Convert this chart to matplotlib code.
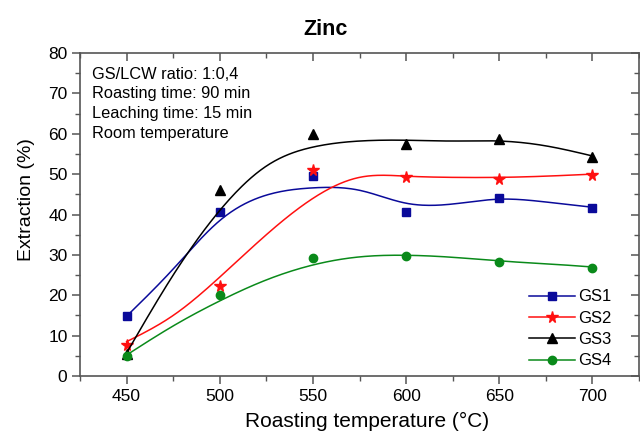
## Zinc extraction vs roasting temperature, four GS samples with smoothed trend curves

import numpy as np
import matplotlib
matplotlib.use("Agg")
import matplotlib.pyplot as plt
from matplotlib.lines import Line2D

plt.rcParams['font.family'] = ['Liberation Sans', 'DejaVu Sans']

## measured points
temps = [450, 500, 550, 600, 650, 700]
gs1 = [14.8, 40.5, 49.5, 40.5, 44.0, 41.5]
gs2 = [7.8, 22.3, 51.0, 49.2, 48.8, 49.8]
gs3 = [5.5, 46.0, 60.0, 57.5, 58.8, 54.2]
gs4 = [5.0, 20.0, 29.3, 29.8, 28.3, 26.8]

## trend curves (knots every 25 C)
curve_t = [450, 475, 500, 525, 550, 575, 600, 625, 650, 675, 700]
gs1_fit = [14.8, 26.5, 38.5, 44.8, 46.6, 46.0, 42.8, 42.6, 43.8, 43.1, 41.8]
gs2_fit = [8.5, 15.0, 24.5, 35.0, 44.0, 49.2, 49.5, 49.2, 49.2, 49.5, 50.0]
gs3_fit = [5.7, 25.0, 41.0, 52.0, 56.7, 58.2, 58.4, 58.2, 58.2, 57.0, 54.5]
gs4_fit = [5.2, 12.4, 18.6, 23.8, 27.5, 29.5, 29.9, 29.4, 28.5, 27.8, 27.0]

labels = ['GS1', 'GS2', 'GS3', 'GS4']
colors = ['#0a0a9a', '#ff1010', '#000000', '#0a8a1a']
markers = ['s', '*', '^', 'o']
msizes = [5.5, 8.5, 7, 6]

notes = ['GS/LCW ratio: 1:0,4', 'Roasting time: 90 min',
         'Leaching time: 15 min', 'Room temperature']


## natural cubic spline through the knots, just for drawing a smooth line
def spline(x, y, xs):
    x = np.asarray(x, float)
    y = np.asarray(y, float)
    n = len(x)
    h = np.diff(x)
    A = np.zeros((n, n))
    r = np.zeros(n)
    A[0, 0] = A[-1, -1] = 1
    for i in range(1, n - 1):
        A[i, i - 1] = h[i - 1]
        A[i, i] = 2 * (h[i - 1] + h[i])
        A[i, i + 1] = h[i]
        r[i] = 3 * ((y[i + 1] - y[i]) / h[i] - (y[i] - y[i - 1]) / h[i - 1])
    c = np.linalg.solve(A, r)
    b = (y[1:] - y[:-1]) / h - h * (2 * c[:-1] + c[1:]) / 3
    d = (c[1:] - c[:-1]) / (3 * h)
    idx = np.clip(np.searchsorted(x, xs) - 1, 0, n - 2)
    dx = xs - x[idx]
    return y[idx] + b[idx] * dx + c[idx] * dx ** 2 + d[idx] * dx ** 3


fig = plt.figure(figsize=(6.4, 4.36), dpi=100)
ax = fig.add_axes([0.125, 0.1376, 0.8735, 0.7408])

xs = np.linspace(curve_t[0], curve_t[-1], 300)
handles = []
for pts, fit, lab, col, mk, ms in zip([gs1, gs2, gs3, gs4],
                                      [gs1_fit, gs2_fit, gs3_fit, gs4_fit],
                                      labels, colors, markers, msizes):
    ax.plot(xs, spline(curve_t, fit, xs), c=col, lw=1.1)
    ax.plot(temps, pts, ls='none', marker=mk, ms=ms, c=col)
    handles.append(Line2D([], [], c=col, lw=1.1, marker=mk, ms=ms))

ax.set_xlim(425, 725)
ax.set_ylim(0, 80)
ax.set_xticks([450, 500, 550, 600, 650, 700])
ax.set_xticks(np.arange(425, 726, 25), minor=True)
ax.set_yticks(np.arange(0, 81, 10))
ax.set_yticks(np.arange(0, 81, 5), minor=True)

spine_c = '#555555'
for s in ax.spines.values():
    s.set_color(spine_c)
    s.set_linewidth(1.2)
ax.tick_params(axis='both', which='major', direction='out', length=6, width=1.1,
               color=spine_c, labelsize=12.5, pad=3)
ax.tick_params(axis='both', which='minor', direction='out', length=3.5, width=1.0,
               color=spine_c)

## top and right ticks point inwards
top = ax.secondary_xaxis('top')
top.set_xticks([450, 500, 550, 600, 650, 700])
top.set_xticks(np.arange(425, 726, 25), minor=True)
top.tick_params(which='major', direction='in', length=6, width=1.1, color=spine_c, labeltop=False)
top.tick_params(which='minor', direction='in', length=3.5, width=1.0, color=spine_c)
top.spines['top'].set_visible(False)
right = ax.secondary_yaxis('right')
right.set_yticks(np.arange(0, 81, 10))
right.set_yticks(np.arange(0, 81, 5), minor=True)
right.tick_params(which='major', direction='in', length=6, width=1.1, color=spine_c, labelright=False)
right.tick_params(which='minor', direction='in', length=3.5, width=1.0, color=spine_c)
right.spines['right'].set_visible(False)

ax.set_xlabel('Roasting temperature (°C)', fontsize=15)
ax.xaxis.set_label_coords(0.514, -0.11)
ax.set_ylabel('Extraction (%)', fontsize=14)
ax.yaxis.set_label_coords(-0.08, 0.545)

fig.text(326 / 640, 1 - 35 / 436, 'Zinc', fontsize=15.5, fontweight='bold',
         ha='center', va='baseline')

ax.text(0.021, 0.957, '\n'.join(notes), transform=ax.transAxes, fontsize=11.8,
        va='top', ha='left', linespacing=1.38)

ax.legend(handles, labels, loc='lower right', bbox_to_anchor=(0.963, 0.003),
          frameon=False, fontsize=12, handlelength=2.75, handletextpad=0.2,
          labelspacing=0.38, borderaxespad=0)

plt.savefig('out.png', dpi=100)
